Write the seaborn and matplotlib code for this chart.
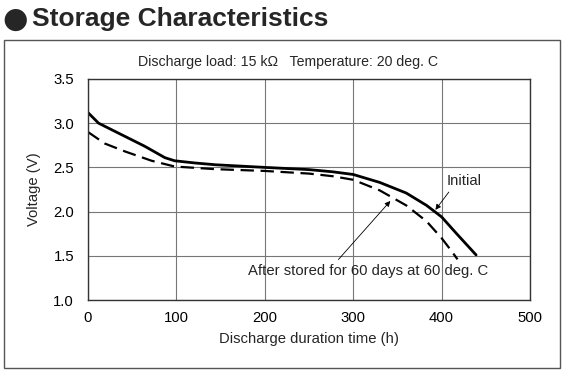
import matplotlib
matplotlib.use("Agg")
import matplotlib.pyplot as plt
import seaborn as sns
import pandas as pd
from matplotlib.patches import Rectangle

# Data
initial_hours = [0, 12, 34, 64, 87, 98, 121, 144, 200, 250, 277, 300, 330, 360, 383, 400, 417, 439]
initial_volts = [3.12, 3.00, 2.89, 2.74, 2.61, 2.575, 2.55, 2.53, 2.50, 2.475, 2.45, 2.42, 2.33, 2.21, 2.07, 1.94, 1.75, 1.51]
stored_hours = [0, 19, 42, 72, 98, 144, 200, 250, 277, 300, 330, 360, 383, 400, 410, 418]
stored_volts = [2.90, 2.77, 2.68, 2.575, 2.51, 2.48, 2.46, 2.43, 2.40, 2.36, 2.24, 2.07, 1.89, 1.70, 1.57, 1.46]
x_ticks = [0, 100, 200, 300, 400, 500]
y_ticks = [1.0, 1.5, 2.0, 2.5, 3.0, 3.5]

sns.set_theme(style="white")
plt.rcParams['font.family'] = ['Liberation Sans', 'DejaVu Sans']

fig = plt.figure(figsize=(5.65, 3.76), dpi=100)
ax = fig.add_axes([88/565, 1-300/376, (530-88)/565, (300-79)/376])

df_i = pd.DataFrame({"h": initial_hours, "v": initial_volts})
df_s = pd.DataFrame({"h": stored_hours, "v": stored_volts})
sns.lineplot(data=df_i, x="h", y="v", ax=ax, color="black", linewidth=2.0, sort=False)
sns.lineplot(data=df_s, x="h", y="v", ax=ax, color="black", linewidth=1.6, sort=False,
             linestyle=(0, (6, 3)))

fs = 10.7
ax.set_xlim(0, 500)
ax.set_ylim(1.0, 3.5)
ax.set_xticks(x_ticks)
ax.set_yticks(y_ticks)
ax.set_xticklabels([str(t) for t in x_ticks])
ax.set_yticklabels([f"{t:.1f}" for t in y_ticks])
ax.tick_params(axis='x', labelsize=fs, length=0, pad=8, colors='black')
ax.tick_params(axis='y', labelsize=fs, length=0, pad=10, colors='black')
ax.grid(True, color="#777777", linewidth=0.8)
for s in ax.spines.values():
    s.set_color("#333333")
    s.set_linewidth(1.0)
ax.set_xlabel("Discharge duration time (h)", fontsize=fs, labelpad=5)
ax.set_ylabel("Voltage (V)", fontsize=fs, labelpad=9)

ax.annotate("Initial", xy=(393, 2.02), xytext=(406, 2.35), fontsize=fs, ha="left", va="center",
            arrowprops=dict(arrowstyle="-|>", color="black", lw=0.6, mutation_scale=8,
                            shrinkA=1, shrinkB=0, relpos=(0.15, 0.0)))
ax.annotate("After stored for 60 days at 60 deg. C", xy=(342, 2.12), xytext=(317, 1.33),
            fontsize=fs, ha="center", va="center",
            arrowprops=dict(arrowstyle="-|>", color="black", lw=0.6, mutation_scale=8,
                            shrinkA=1, shrinkB=0, relpos=(0.36, 1.0)))

fig.text(288/565, 1-62/376, "Discharge load: 15 k\u03a9   Temperature: 20 deg. C",
         fontsize=10.2, ha="center", va="center")

fig.text(2/565, 1-20/376, "\u25cf", fontsize=21, ha="left", va="center", family="DejaVu Sans")
fig.text(32/565, 1-19/376, "Storage Characteristics", fontsize=19, fontweight="bold",
         ha="left", va="center")

fig.patches.append(Rectangle((4/565, 1-368/376), (560-4)/565, (368-40)/376,
                             transform=fig.transFigure, fill=False, edgecolor="#555555",
                             linewidth=1.0))

fig.savefig("out.png", dpi=100)
